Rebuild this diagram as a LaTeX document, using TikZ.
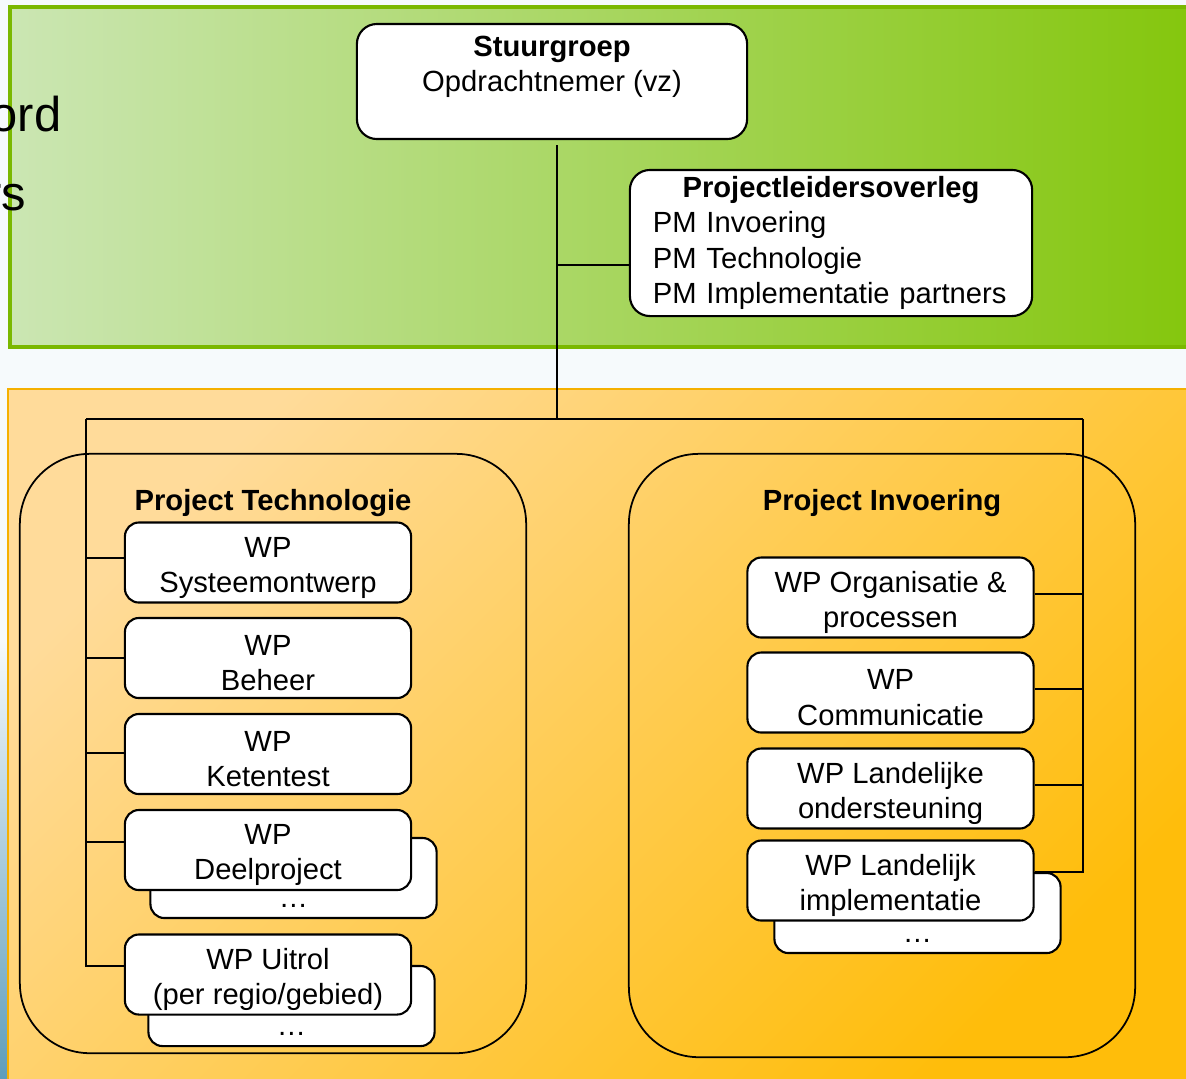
\documentclass[tikz,border=0pt]{standalone}
\usepackage{fontspec}
\setmainfont{Liberation Sans}
\usepackage{tikz}
\usetikzlibrary{positioning}
\usepackage{xcolor}
\definecolor{bgpale}{HTML}{F6FAFC}
\definecolor{stripblue}{HTML}{5E9DBB}
\definecolor{greenL}{HTML}{CBE6B3}
\definecolor{greenR}{HTML}{84C60C}
\definecolor{greenedge}{HTML}{7AB800}
\definecolor{orangeL}{HTML}{FFDB9A}
\definecolor{orangeR}{HTML}{FFBD0A}
\definecolor{orangeedge}{HTML}{F5B000}
\newcommand{\boxfont}{\fontsize{8.3}{10}\selectfont}
\newcommand{\wpstrut}{\rule{0pt}{8.6pt}}

\begin{document}
\begin{tikzpicture}[x=0.01cm, y=-0.01cm,
  txt/.style={font=\boxfont},
  wpbox/.style={txt, draw, line width=0.6pt, fill=white, rounded corners=0.14cm,
    minimum width=2.86cm, minimum height=0.8cm, align=center, inner sep=1pt},
  projbox/.style={draw, line width=0.5pt, rounded corners=0.7cm, minimum width=5.06cm},
  conn/.style={line width=0.6pt}]
  \useasboundingbox (0,0) rectangle (1186,1078);
  \clip (0,0) rectangle (1186,1078);
  % Background and bands
  \fill[bgpale] (0,0) rectangle (1186,1078);
  \shade[top color=bgpale, bottom color=stripblue] (0,640) rectangle (9,1078);
  \shade[left color=greenL, right color=greenR, draw=greenedge, line width=0.9pt]
    (10,7) rectangle (1200,347);
  \shade[left color=orangeL, right color=orangeR, shading angle=45, draw=orangeedge, line width=0.6pt]
    (8,389) rectangle (1200,1090);
  \node[anchor=base east, font=\fontsize{13.9}{16}\selectfont, inner sep=0pt] (ordtxt) at (62,131) {ord};
  \node[anchor=base east, font=\fontsize{13.9}{16}\selectfont, inner sep=0pt] (rstxt) at (27,210) {rs};
  % Top level
  \node[txt, draw, line width=0.6pt, fill=white, rounded corners=0.2cm, align=center,
    minimum width=3.9cm, minimum height=1.15cm, inner sep=1pt] (stuurgroep) at (552,81.5)
    {\textbf{Stuurgroep}\\Opdrachtnemer (vz)\\\mbox{}};
  \node[txt, draw, line width=0.6pt, fill=white, rounded corners=0.2cm, align=left,
    text width=3.56cm, inner xsep=0.23cm, inner ysep=1pt, minimum height=1.46cm] (plo) at (831,243)
    {\makebox[3.56cm]{\bfseries Projectleidersoverleg}\\PM Invoering\\PM Technologie\\PM Implementatie partners};
  % Projects
  \node[projbox, minimum height=5.99cm] (techn) at (273,753.5) {};
  \node[projbox, minimum height=6.03cm] (invoer) at (882,755.5) {};
  \node[txt, font=\boxfont\bfseries] (technT) at (273,503) {Project Technologie};
  \node[txt, font=\boxfont\bfseries] (invoerT) at (882,503) {Project Invoering};
  % Lines
  \coordinate (trunk) at (557,145);
  \coordinate (tap) at (557,265);
  \coordinate (split) at (557,419);
  \coordinate (busL) at (86,419);
  \coordinate (busR) at (1083,419);
  \draw[conn] (trunk) -- (split);
  \draw[conn] (tap) -- (tap -| plo.west);
  \draw[conn] (busL) -- (busR);
  % Work packages, stacked ones first
  \node[wpbox] (deelB) at (293.5,878) {};
  \node[wpbox] (uitrolB) at (291.5,1006) {};
  \node[wpbox] (implB) at (917.5,913) {};
  \foreach \b in {deelB,uitrolB,implB}
    \node[txt, above=2pt of \b.south, inner sep=1pt] (\b dots) {…};
  \node[wpbox] (sys) at (268,562.5) {\wpstrut WP\\Systeemontwerp};
  \node[wpbox] (beheer) at (268,658) {\wpstrut WP\\Beheer};
  \node[wpbox] (keten) at (268,754) {\wpstrut WP\\Ketentest};
  \node[wpbox] (deel) at (268,850) {\wpstrut WP\\Deelproject};
  \node[wpbox] (uitrol) at (268,974.5) {\wpstrut WP Uitrol\\(per regio/gebied)};
  \node[wpbox] (org) at (890.5,597.5) {\wpstrut WP Organisatie \&\\processen};
  \node[wpbox] (comm) at (890.5,692.5) {\wpstrut WP\\Communicatie};
  \node[wpbox] (ondst) at (890.5,788.5) {\wpstrut WP Landelijke\\ondersteuning};
  \node[wpbox] (impl) at (890.5,880.5) {\wpstrut WP Landelijk\\implementatie};
  \foreach \n/\dy in {sys/0.045,beheer/0,keten/0.01,deel/0.08,uitrol/0.085}
    \draw[conn] (busL) |- ([yshift=\dy cm]\n.west);
  \foreach \n/\dy in {org/0.035,comm/0.035,ondst/0.035,impl/0.085}
    \draw[conn] (busR) |- ([yshift=\dy cm]\n.east);
\end{tikzpicture}
\end{document}
